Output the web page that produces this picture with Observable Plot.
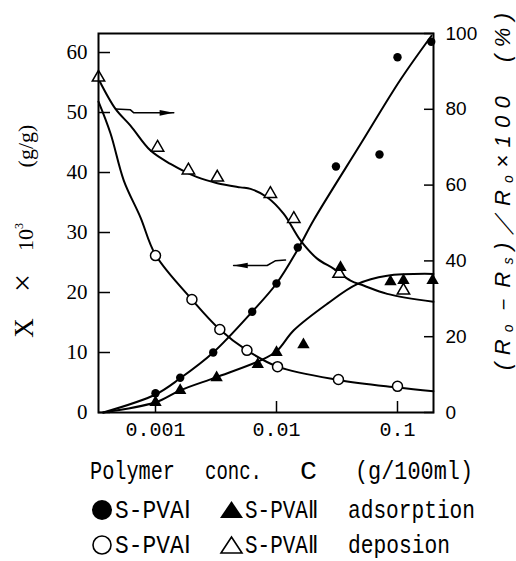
<!DOCTYPE html>
<html><head><meta charset="utf-8">
<script src="https://cdn.jsdelivr.net/npm/d3@7"></script>
<script src="https://cdn.jsdelivr.net/npm/@observablehq/plot@0.6"></script>
<style>body{margin:0;background:#fff}</style>
</head><body><div id="chart"></div>
<script>
// ---- axes ----
const xTicks = [0.001, 0.01, 0.1];
const leftTicks = [0, 10, 20, 30, 40, 50, 60];
const rightTicks = [0, 20, 40, 60, 80, 100];
const xDomain = [0.000338, 0.1984];
const leftMax = 63.17;            // X×10³ at top of frame
const K = leftMax / 100;          // % (right axis) -> left units

// ---- measured points ----
// adsorption, X×10³ (left axis)
const adsIC  = [0.001, 0.0016, 0.003, 0.0063, 0.01, 0.015, 0.031, 0.071, 0.1, 0.19];
const adsIX  = [3.2, 5.8, 10, 16.8, 21.5, 27.5, 41, 43, 59.2, 61.8];
const adsIIC = [0.001, 0.0016, 0.0032, 0.007, 0.01, 0.0167, 0.0338, 0.0875, 0.112, 0.195];
const adsIIX = [1.7, 3.7, 5.8, 8, 10, 11.3, 24.2, 21.8, 22, 22];
// deposition, % (right axis)
const depIC  = [0.001, 0.002, 0.0034, 0.0057, 0.0102, 0.0325, 0.1];
const depIP  = [41.4, 29.8, 21.9, 16.4, 12.1, 8.7, 6.9];
const depIIC = [0.000338, 0.00104, 0.00187, 0.00324, 0.0089, 0.0139, 0.0329, 0.112];
const depIIP = [88.4, 69.9, 63.9, 62.0, 57.7, 51.1, 36.6, 32.2];

// ---- drawn (fitted) curves ----
const fitAdsIC  = [0.00037, 0.001, 0.0016, 0.003, 0.0063, 0.01, 0.015, 0.0202, 0.0494, 0.106, 0.191];
const fitAdsIX  = [0, 3, 5.7, 10, 16.8, 21.5, 27.2, 32, 44.7, 55.5, 62.8];
const fitAdsIIC = [0.00037, 0.001, 0.0016, 0.0032, 0.0074, 0.01, 0.0139, 0.0262, 0.0464, 0.0822, 0.198];
const fitAdsIIX = [0, 1.7, 3.7, 5.9, 8.7, 10.2, 13.7, 18.1, 21.4, 22.8, 23.1];
const fitDepIC  = [0.000338, 0.000425, 0.000547, 0.000751, 0.001, 0.002, 0.0034, 0.0057, 0.0102, 0.0325, 0.1, 0.198];
const fitDepIP  = [82, 73.6, 61.2, 51.5, 41.6, 29.8, 21.9, 16.4, 12.1, 8.6, 6.6, 5.6];
const fitDepIIC = [0.000338, 0.000467, 0.000621, 0.00091, 0.00133, 0.00221, 0.00324, 0.00503, 0.0061, 0.00837, 0.01148, 0.01578, 0.02168, 0.0298, 0.0409, 0.0524, 0.0822, 0.198];
const fitDepIIP = [88, 80.1, 75.7, 69.1, 65.6, 62.1, 60.5, 59.4, 59.0, 56.8, 52.4, 45.4, 40.6, 37.9, 34.8, 33.5, 31.3, 29.2];

// ---- axis-pointer arrows (left units) ----
const arrowRC = [0.000467, 0.000621, 0.000662, 0.001416];
const arrowRY = [50.6, 50.45, 49.95, 49.95];
const arrowLC = [0.01186, 0.00984, 0.00837, 0.00442];
const arrowLY = [25.4, 25.3, 24.5, 24.5];

const rows = (xs, ys, f = 1) => xs.map((x, i) => ({x, y: ys[i] * f}));

const arrowHead = {
  draw(ctx, size) {
    const l = Math.sqrt(size);
    ctx.moveTo(0, 0);
    ctx.lineTo(-l, -l * 0.2);
    ctx.lineTo(-l, l * 0.2);
    ctx.closePath();
  }
};

const lineOpts = {x: "x", y: "y", stroke: "black", strokeWidth: 2, curve: "catmull-rom"};
const arR = rows(arrowRC, arrowRY), arL = rows(arrowLC, arrowLY);

const plot = Plot.plot({
  width: 516, height: 561,
  marginLeft: 98, marginRight: 83, marginTop: 33, marginBottom: 149,
  style: {background: "white", color: "black"},
  x: {type: "log", domain: xDomain},
  y: {domain: [0, leftMax]},
  marks: [
    Plot.axisX({ticks: xTicks, tickFormat: d => String(d), tickSize: -11, tickPadding: 20, label: null,
      fontSize: 20, fontFamily: "Liberation Mono", strokeWidth: 1.5}),
    Plot.axisY({anchor: "left", ticks: leftTicks, tickSize: -12, tickPadding: 23, label: null,
      fontSize: 21, fontFamily: "Liberation Serif", strokeWidth: 1.5}),
    Plot.axisY({anchor: "right", ticks: rightTicks.map(v => v * K), tickFormat: d => String(Math.round(d / K)),
      tickSize: -10, tickPadding: 22, label: null, fontSize: 19, fontFamily: "Liberation Sans", strokeWidth: 1.5}),
    Plot.line(rows(fitAdsIC, fitAdsIX), lineOpts),
    Plot.line(rows(fitAdsIIC, fitAdsIIX), lineOpts),
    Plot.line(rows(fitDepIC, fitDepIP, K), lineOpts),
    Plot.line(rows(fitDepIIC, fitDepIIP, K), lineOpts),
    Plot.line(arR, {x: "x", y: "y", stroke: "black", strokeWidth: 1.5}),
    Plot.line(arL, {x: "x", y: "y", stroke: "black", strokeWidth: 1.5}),
    Plot.dot([arR[arR.length - 1]], {x: "x", y: "y", symbol: arrowHead, r: 8, fill: "black", stroke: null}),
    Plot.dot([arL[arL.length - 1]], {x: "x", y: "y", symbol: arrowHead, r: 8, rotate: 180, fill: "black", stroke: null}),
    Plot.dot(rows(depIC, depIP, K), {x: "x", y: "y", r: 5, fill: "white", stroke: "black", strokeWidth: 1.5}),
    Plot.dot(rows(depIIC, depIIP, K), {x: "x", y: "y", r: 4.6, symbol: "triangle", fill: "white", stroke: "black", strokeWidth: 1.5}),
    Plot.dot(rows(adsIC, adsIX), {x: "x", y: "y", r: 4.2, fill: "black", stroke: null}),
    Plot.dot(rows(adsIIC, adsIIX), {x: "x", y: "y", r: 4.6, symbol: "triangle", fill: "black", stroke: null}),
    Plot.frame({stroke: "black", strokeWidth: 2})
  ]
});
document.getElementById("chart").append(plot);

const svg = d3.select(plot);

// left axis title
const lt = svg.append("g").attr("font-family", "Liberation Serif").attr("fill", "black").attr("text-anchor", "middle");
lt.append("text").attr("transform", "translate(33,328) rotate(-90)").attr("font-size", 27).text("X");
lt.append("text").attr("transform", "translate(33,283) rotate(-90)").attr("font-size", 32).text("×");
const tt = lt.append("text").attr("transform", "translate(33,237) rotate(-90)").attr("font-size", 22);
tt.append("tspan").text("10");
tt.append("tspan").attr("font-size", 12).attr("dy", -10).text("3");
lt.append("text").attr("transform", "translate(33,146) rotate(-90)").attr("font-size", 22).text("(g/g)");

// right axis title
const rl = svg.append("text").attr("transform", "translate(510,370) rotate(-90)")
  .attr("text-anchor", "start")
  .attr("font-family", "Liberation Sans").attr("font-style", "italic").attr("font-size", 22)
  .attr("fill", "black").attr("textLength", 357).attr("lengthAdjust", "spacing").style("white-space", "pre");
rl.append("tspan").text("(R");
rl.append("tspan").attr("font-size", 14).attr("dy", 3).text("o");
rl.append("tspan").attr("dy", -3).text("－R");
rl.append("tspan").attr("font-size", 14).attr("dy", 3).text("s");
rl.append("tspan").attr("dy", -3).text(")／R");
rl.append("tspan").attr("font-size", 14).attr("dy", 3).text("o");
rl.append("tspan").attr("dy", -3).text("×100  (%)");

// x title and legend
const lg = svg.append("g").attr("font-family", "Liberation Mono").attr("font-size", 25)
  .attr("fill", "black").attr("text-anchor", "start");
const put = (s, x, y, len) => lg.append("text").attr("x", x).attr("y", y).attr("textLength", len)
  .attr("lengthAdjust", "spacingAndGlyphs").text(s);
put("Polymer", 90, 479, 85);
put("conc.", 205, 479, 57);
put("C", 300, 479, 17);
put("(g/100ml)", 355, 479, 118);
put("S-PVAⅠ", 115, 518, 75);
put("S-PVAⅡ", 245, 518, 73);
put("adsorption", 348, 518, 127);
put("S-PVAⅠ", 115, 553, 75);
put("S-PVAⅡ", 245, 553, 73);
put("deposion", 348, 553, 102);
lg.append("circle").attr("cx", 102).attr("cy", 510).attr("r", 10).attr("fill", "black");
lg.append("path").attr("d", "M220,518L243,518L231.5,501Z").attr("fill", "black");
lg.append("circle").attr("cx", 102).attr("cy", 545).attr("r", 9).attr("fill", "white").attr("stroke", "black").attr("stroke-width", 1.6);
lg.append("path").attr("d", "M221,553L242,553L231.5,537Z").attr("fill", "white").attr("stroke", "black").attr("stroke-width", 1.6);
</script>
</body></html>
